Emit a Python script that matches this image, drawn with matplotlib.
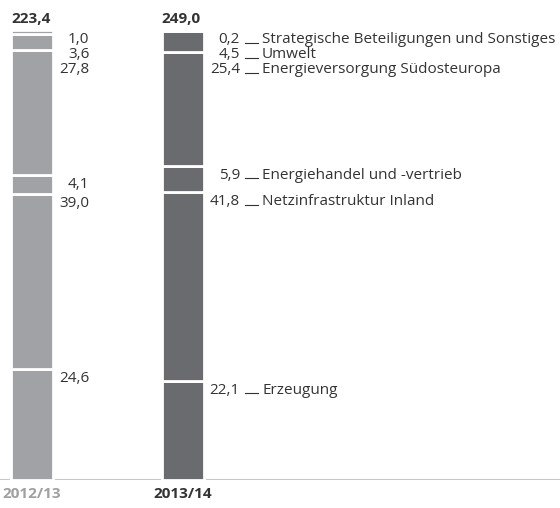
import matplotlib
matplotlib.use("Agg")
import matplotlib.pyplot as plt

# Anteile je Segment in %, von unten nach oben
years = ["2012/13", "2013/14"]
totals = ["223,4", "249,0"]
segments = ["Erzeugung", "Netzinfrastruktur Inland", "Energiehandel und -vertrieb",
            "Energieversorgung Südosteuropa", "Umwelt",
            "Strategische Beteiligungen und Sonstiges"]
share_1213 = [24.6, 39.0, 4.1, 27.8, 3.6, 1.0]
share_1314 = [22.1, 41.8, 5.9, 25.4, 4.5, 0.2]

bar_colors = ["#a1a2a5", "#6a6b6f"]
year_colors = ["#a0a0a0", "#333333"]
TEXT = "#333333"

plt.rcParams["font.family"] = ["Open Sans", "DejaVu Sans"]
plt.rcParams["font.size"] = 11

fig = plt.figure(figsize=(5.6, 5.08), dpi=100)
ax = fig.add_axes([0, 28 / 508, 1, 450 / 508])
ax.set_axis_off()

PX_X = 150.5            # pixel pro x-Einheit
PX_Y = 450 / 100        # pixel pro %-Punkt
W = 42 / PX_X
ax.set_xlim(-32 / PX_X, -32 / PX_X + 560 / PX_X)
ax.set_ylim(0, 100)

ax.axhline(0, color="#c8c8c8", lw=1.5, zorder=1)


def fmt(v):
    return f"{v:.1f}".replace(".", ",")


for i, vals in enumerate([share_1213, share_1314]):
    bottom = 0.0
    tops = []
    for v in vals:
        ax.bar(i, v, width=W, bottom=bottom, color=bar_colors[i],
               edgecolor="white", linewidth=2, zorder=2)
        bottom += v
        tops.append(bottom)

    # Beschriftungen von oben nach unten, Überlappung vermeiden
    ys = []
    prev = None
    for top in reversed(tops):
        y = top - 13 / PX_Y
        if prev is not None:
            y = min(y, prev - 15 / PX_Y)
        ys.append(y)
        prev = y
    ys = ys[::-1]

    xr = i + 57.5 / PX_X
    for k, (v, y) in enumerate(zip(vals, ys)):
        ax.text(xr, y, fmt(v), ha="right", va="baseline", color=TEXT)
        if i == 1:
            ax.plot([i + 62.5 / PX_X, i + 75 / PX_X], [y + 0.2, y + 0.2],
                    color=TEXT, lw=0.8)
            ax.text(i + 79.5 / PX_X, y, segments[k], ha="left", va="baseline",
                    color=TEXT)

    ax.text(i - W / 2, bottom + 7 / PX_Y, totals[i], ha="left", va="baseline",
            fontweight="bold", color=TEXT)
    ax.text(i, -18 / PX_Y, years[i], ha="center", va="baseline",
            fontweight="bold", color=year_colors[i], clip_on=False)

fig.savefig("out.png", dpi=100)
